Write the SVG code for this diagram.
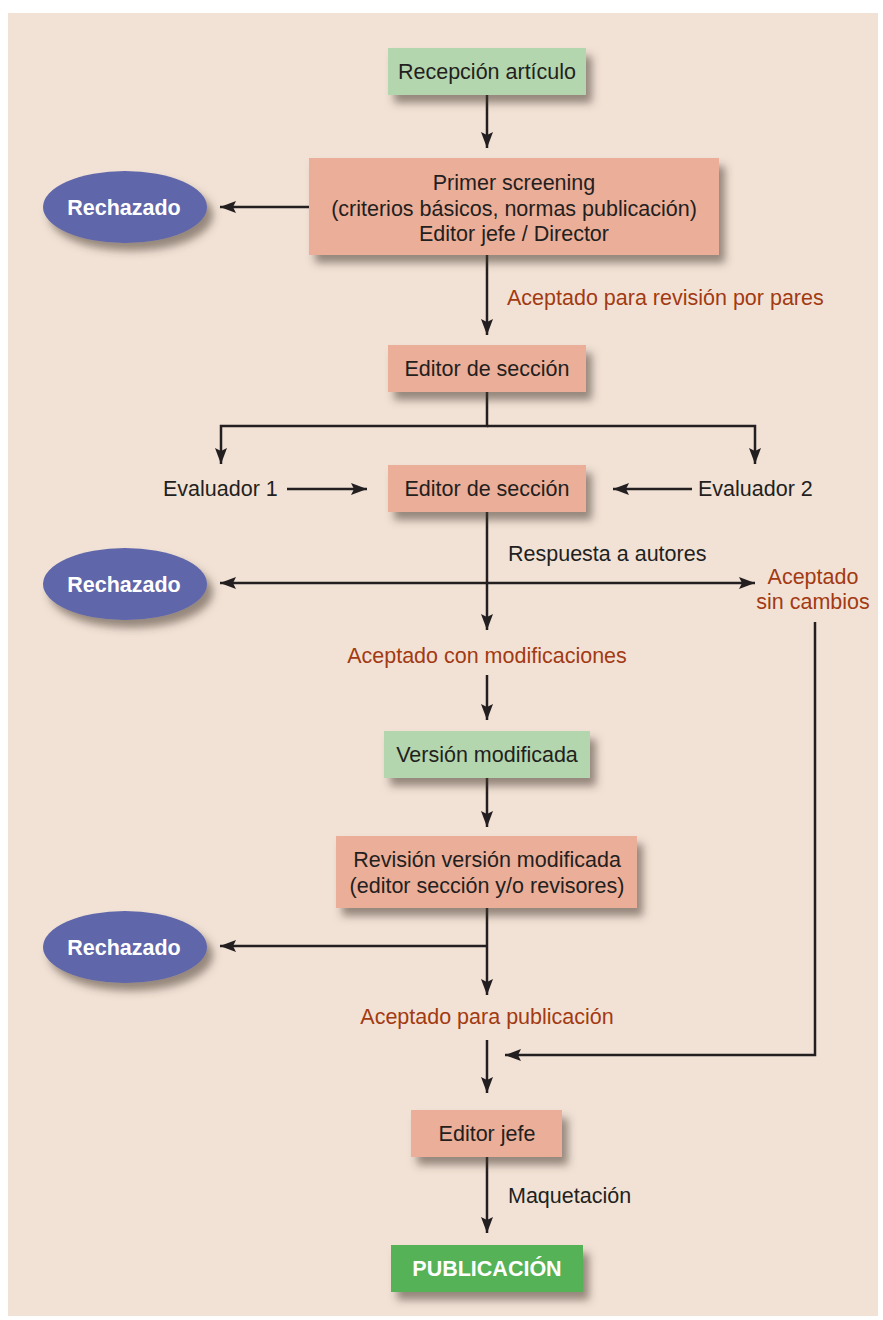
<svg xmlns="http://www.w3.org/2000/svg" width="883" height="1320" viewBox="0 0 883 1320">
<defs>
<filter id="sh" x="-20%" y="-30%" width="150%" height="180%">
<feDropShadow dx="6" dy="8" stdDeviation="4" flood-color="#4a3a30" flood-opacity="0.55"/>
</filter>
<marker id="ah" markerUnits="userSpaceOnUse" markerWidth="18" markerHeight="14" refX="16" refY="6" orient="auto">
<path d="M0,0 L16,6 L0,12 L3,6 z" fill="#231F20"/>
</marker>
<style>
.t{font-family:"Liberation Sans",Arial,sans-serif;font-size:21.5px;fill:#231F20;text-anchor:middle}
.l{font-family:"Liberation Sans",Arial,sans-serif;font-size:21.5px;fill:#231F20}
.r{font-family:"Liberation Sans",Arial,sans-serif;font-size:21.5px;fill:#A23A12;text-anchor:middle}
.w{font-family:"Liberation Sans",Arial,sans-serif;font-size:21.5px;font-weight:bold;fill:#FFFFFF;text-anchor:middle}
.g{fill:#B4D6AE;filter:url(#sh)}
.s{fill:#EBAE98;filter:url(#sh)}
.e{fill:#5F66AA;filter:url(#sh)}
.p{fill:#55B256;filter:url(#sh)}
.c path{fill:none;stroke:#231F20;stroke-width:2.5;marker-end:url(#ah)}
</style>
</defs>
<rect x="0" y="0" width="883" height="1320" fill="#FFFFFF"/>
<rect x="8" y="13" width="870" height="1303" fill="#F2E2D6"/>

<g class="c" id="connectors">
<path d="M487,95 V148"/>
<path d="M309,207 H220"/>
<path d="M487,255 V335"/>
<path d="M487,392 V426 H221 V464"/>
<path d="M487,426 H755 V464"/>
<path d="M287,489 H367"/>
<path d="M692,489 H613"/>
<path d="M487,512 V630"/>
<path d="M487,583 H220"/>
<path d="M487,583 H755"/>
<path d="M487,675 V720"/>
<path d="M487,778 V827"/>
<path d="M487,908 V995"/>
<path d="M487,946 H220"/>
<path d="M487,1040 V1093"/>
<path d="M815,622 V1055 H505"/>
<path d="M487,1157 V1233"/>
</g>

<g id="recepcion"><rect class="g" x="388" y="48" width="198" height="47"/><text class="t" x="487" y="79">Recepción artículo</text></g>
<g id="screening"><rect class="s" x="309" y="158" width="410" height="97"/>
<text class="t" x="514" y="190">Primer screening</text>
<text class="t" x="514" y="216">(criterios básicos, normas publicación)</text>
<text class="t" x="514" y="241">Editor jefe / Director</text></g>
<g id="rechazado1"><ellipse class="e" cx="125" cy="207" rx="82" ry="36"/><text class="w" x="124" y="215">Rechazado</text></g>
<text class="l" x="507" y="305" fill="#A23A12" style="fill:#A23A12">Aceptado para revisión por pares</text>
<g id="editor1"><rect class="s" x="388" y="345" width="198" height="47"/><text class="t" x="487" y="376">Editor de sección</text></g>
<g id="evaluador1"><text class="l" x="163" y="496">Evaluador 1</text></g>
<g id="editor2"><rect class="s" x="388" y="465" width="198" height="47"/><text class="t" x="487" y="496">Editor de sección</text></g>
<g id="evaluador2"><text class="l" x="698" y="496">Evaluador 2</text></g>
<text class="l" x="508" y="561">Respuesta a autores</text>
<g id="rechazado2"><ellipse class="e" cx="125" cy="584" rx="82" ry="36"/><text class="w" x="124" y="592">Rechazado</text></g>
<g id="sincambios"><text class="r" x="813" y="584">Aceptado</text><text class="r" x="813" y="609">sin cambios</text></g>
<g id="conmodif"><text class="r" x="487" y="663">Aceptado con modificaciones</text></g>
<g id="version"><rect class="g" x="384" y="731" width="206" height="47"/><text class="t" x="487" y="762">Versión modificada</text></g>
<g id="revision"><rect class="s" x="336" y="836" width="301" height="72"/>
<text class="t" x="487" y="867">Revisión versión modificada</text>
<text class="t" x="487" y="893">(editor sección y/o revisores)</text></g>
<g id="rechazado3"><ellipse class="e" cx="125" cy="947" rx="82" ry="36"/><text class="w" x="124" y="955">Rechazado</text></g>
<g id="aceptpub"><text class="r" x="487" y="1024">Aceptado para publicación</text></g>
<g id="editorjefe"><rect class="s" x="411" y="1110" width="151" height="47"/><text class="t" x="487" y="1141">Editor jefe</text></g>
<text class="l" x="508" y="1203">Maquetación</text>
<g id="publicacion"><rect class="p" x="391" y="1245" width="192" height="47"/><text class="w" x="487" y="1276">PUBLICACIÓN</text></g>
</svg>
